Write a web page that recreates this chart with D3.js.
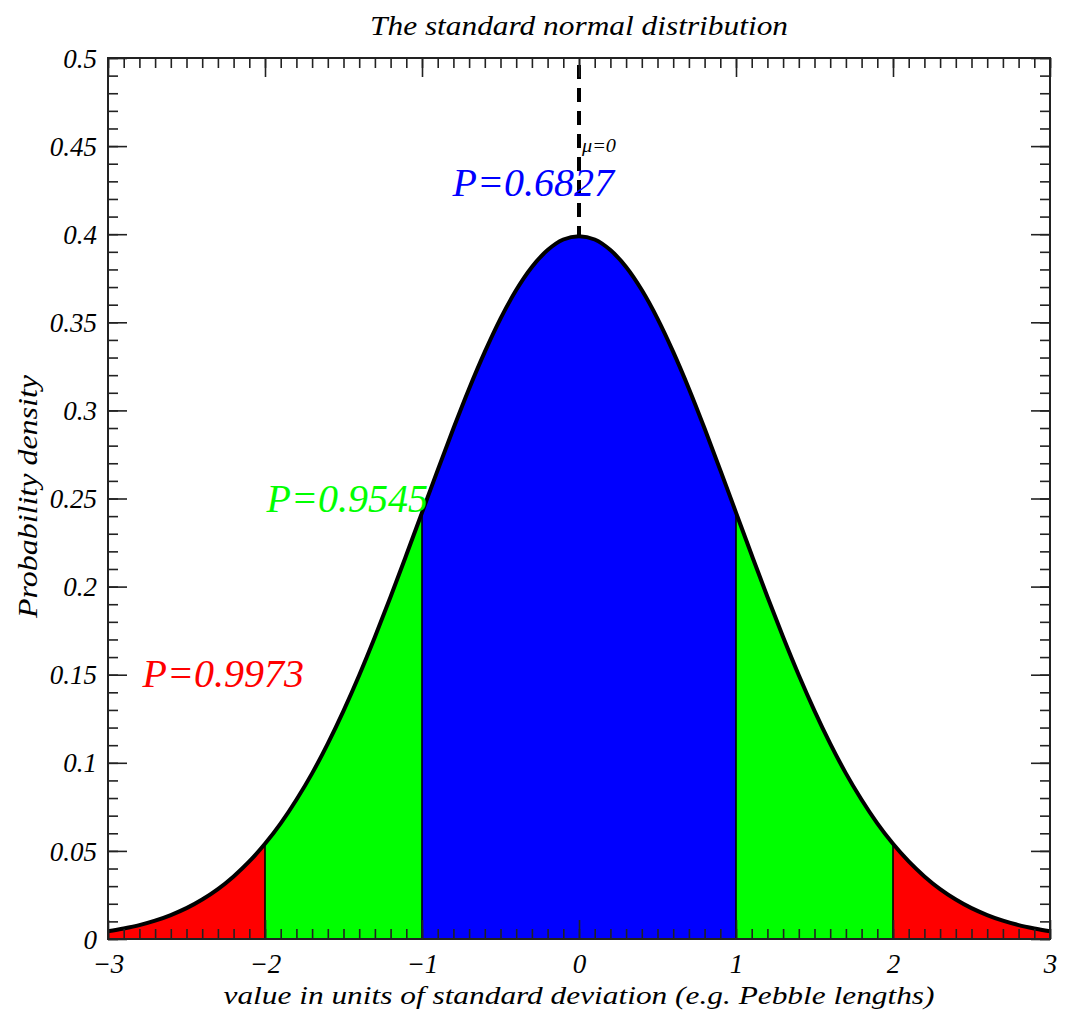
<!DOCTYPE html>
<html>
<head>
<meta charset="utf-8">
<script src="https://cdn.jsdelivr.net/npm/d3@7"></script>
<style>
  html, body { margin: 0; padding: 0; background: #fff; }
  text { font-family: "Liberation Serif", "Times New Roman", serif; font-style: italic; }
</style>
</head>
<body>
<svg id="chart" width="1066" height="1019"></svg>
<script>
// ---- data ----
const xValues = [-3.0,-2.9,-2.8,-2.7,-2.6,-2.5,-2.4,-2.3,-2.2,-2.1,-2.0,-1.9,-1.8,-1.7,-1.6,-1.5,-1.4,-1.3,-1.2,-1.1,
  -1.0,-0.9,-0.8,-0.7,-0.6,-0.5,-0.4,-0.3,-0.2,-0.1,0.0,0.1,0.2,0.3,0.4,0.5,0.6,0.7,0.8,0.9,
  1.0,1.1,1.2,1.3,1.4,1.5,1.6,1.7,1.8,1.9,2.0,2.1,2.2,2.3,2.4,2.5,2.6,2.7,2.8,2.9,3.0];
const densityValues = [0.0044,0.0060,0.0079,0.0104,0.0136,0.0175,0.0224,0.0283,0.0355,0.0440,
  0.0540,0.0656,0.0790,0.0940,0.1109,0.1295,0.1497,0.1714,0.1942,0.2179,
  0.2420,0.2661,0.2897,0.3123,0.3332,0.3521,0.3683,0.3814,0.3910,0.3970,
  0.3989,
  0.3970,0.3910,0.3814,0.3683,0.3521,0.3332,0.3123,0.2897,0.2661,0.2420,
  0.2179,0.1942,0.1714,0.1497,0.1295,0.1109,0.0940,0.0790,0.0656,0.0540,
  0.0440,0.0355,0.0283,0.0224,0.0175,0.0136,0.0104,0.0079,0.0060,0.0044];
const bandStarts = [-3, -2, -1, 1, 2];
const bandEnds   = [-2, -1, 1, 2, 3];
const bandColors = ["#ff0000", "#00ff00", "#0000ff", "#00ff00", "#ff0000"];
const dividers = [-2, -1, 1, 2];
const xTickValues = [-3, -2, -1, 0, 1, 2, 3];
const xTickLabels = ["\u22123", "\u22122", "\u22121", "0", "1", "2", "3"];
const yTickValues = [0, 0.05, 0.1, 0.15, 0.2, 0.25, 0.3, 0.35, 0.4, 0.45, 0.5];
const yTickLabels = ["0", "0.05", "0.1", "0.15", "0.2", "0.25", "0.3", "0.35", "0.4", "0.45", "0.5"];
const probLabels = ["P=0.6827", "P=0.9545", "P=0.9973"];
const probColors = ["#0000ff", "#00ff00", "#ff0000"];
const probAnchorX = [-0.805, -1.99, -2.78];
const probAnchorY = [0.4215, 0.2423, 0.1430];
const meanValue = 0;
const titleText = "The standard normal distribution";
const xLabelText = "value in units of standard deviation (e.g. Pebble lengths)";
const yLabelText = "Probability density";

// ---- layout ----
const svg = d3.select("#chart");
const L = 108, R = 1050, T = 58, B = 939;
const x = d3.scaleLinear().domain([-3, 3]).range([L, R]);
const y = d3.scaleLinear().domain([0, 0.5]).range([B, T]);

const pts = xValues.map((v, i) => ({x: v, y: densityValues[i]}));

// bands
const area = d3.area().x(d => x(d.x)).y0(y(0)).y1(d => y(d.y)).curve(d3.curveMonotoneX);
bandStarts.forEach((s, i) => {
  const e = bandEnds[i];
  const sub = pts.filter(p => p.x >= s - 1e-9 && p.x <= e + 1e-9);
  svg.append("path").attr("d", area(sub)).attr("fill", bandColors[i]).attr("stroke", "none");
});

// divider lines
dividers.forEach(d => {
  const i = xValues.findIndex(v => Math.abs(v - d) < 1e-9);
  svg.append("line")
    .attr("x1", x(d)).attr("x2", x(d))
    .attr("y1", y(0)).attr("y2", y(densityValues[i]))
    .attr("stroke", "#000").attr("stroke-width", 1.6);
});

// curve
const line = d3.line().x(d => x(d.x)).y(d => y(d.y)).curve(d3.curveMonotoneX);
svg.append("path").attr("d", line(pts)).attr("fill", "none")
  .attr("stroke", "#000").attr("stroke-width", 4);

// mean dashed line
const peak = densityValues[xValues.findIndex(v => Math.abs(v - meanValue) < 1e-9)];
svg.append("line")
  .attr("x1", x(meanValue)).attr("x2", x(meanValue))
  .attr("y1", y(0.5) + 7).attr("y2", y(peak))
  .attr("stroke", "#000").attr("stroke-width", 4)
  .attr("stroke-dasharray", "14,9");

// axes (ticks inward on all four sides)
function styleAxis(g) {
  g.select(".domain").remove();
  g.selectAll(".tick line").attr("stroke", "#222").attr("stroke-width", 1.6);
}
const minorX = d3.range(-30, 31).map(v => v / 10);
const minorY = d3.range(0, 51).map(v => v / 100);

svg.append("g").attr("transform", `translate(0,${B})`)
  .call(d3.axisBottom(x).tickValues(minorX).tickSize(-10).tickFormat(""))
  .call(styleAxis);
svg.append("g").attr("transform", `translate(0,${B})`)
  .call(d3.axisBottom(x).tickValues(xTickValues).tickSize(-19).tickPadding(15)
        .tickFormat((d, i) => xTickLabels[i]))
  .call(styleAxis)
  .call(g => g.selectAll("text").attr("font-size", 27).attr("fill", "#000")
        .style("font-family", "'Liberation Serif', serif").style("font-style", "italic"));
svg.append("g").attr("transform", `translate(0,${T})`)
  .call(d3.axisTop(x).tickValues(minorX).tickSize(-10).tickFormat(""))
  .call(styleAxis);
svg.append("g").attr("transform", `translate(0,${T})`)
  .call(d3.axisTop(x).tickValues(xTickValues).tickSize(-19).tickFormat(""))
  .call(styleAxis);

svg.append("g").attr("transform", `translate(${L},0)`)
  .call(d3.axisLeft(y).tickValues(minorY).tickSize(-10).tickFormat(""))
  .call(styleAxis);
svg.append("g").attr("transform", `translate(${L},0)`)
  .call(d3.axisLeft(y).tickValues(yTickValues).tickSize(-19).tickPadding(11)
        .tickFormat((d, i) => yTickLabels[i]))
  .call(styleAxis)
  .call(g => g.selectAll("text").attr("font-size", 27).attr("fill", "#000").attr("dy", "0.34em")
        .style("font-family", "'Liberation Serif', serif").style("font-style", "italic"));
svg.append("g").attr("transform", `translate(${R},0)`)
  .call(d3.axisRight(y).tickValues(minorY).tickSize(-10).tickFormat(""))
  .call(styleAxis);
svg.append("g").attr("transform", `translate(${R},0)`)
  .call(d3.axisRight(y).tickValues(yTickValues).tickSize(-19).tickFormat(""))
  .call(styleAxis);

// frame
svg.append("rect").attr("x", L).attr("y", T).attr("width", R - L).attr("height", B - T)
  .attr("fill", "none").attr("stroke", "#222").attr("stroke-width", 2);

// probability labels
probLabels.forEach((t, i) => {
  svg.append("text").attr("x", x(probAnchorX[i])).attr("y", y(probAnchorY[i]))
    .attr("font-size", 40).attr("fill", probColors[i]).text(t);
});

// mu label
svg.append("text").attr("x", x(meanValue) + 3).attr("y", y(0.4467))
  .attr("font-size", 19).attr("textLength", 34).attr("lengthAdjust", "spacingAndGlyphs")
  .attr("fill", "#000").text("\u03bc=0");

// title
svg.append("text").attr("x", (L + R) / 2).attr("y", 35).attr("text-anchor", "middle")
  .attr("font-size", 28).attr("textLength", 418).attr("lengthAdjust", "spacingAndGlyphs")
  .attr("fill", "#000").text(titleText);

// x label
svg.append("text").attr("x", (L + R) / 2).attr("y", 1004).attr("text-anchor", "middle")
  .attr("font-size", 25).attr("textLength", 711).attr("lengthAdjust", "spacingAndGlyphs")
  .attr("fill", "#000").text(xLabelText);

// y label
svg.append("text").attr("transform", `translate(37,${(375 + 618) / 2}) rotate(-90)`)
  .attr("text-anchor", "middle")
  .attr("font-size", 28).attr("textLength", 243).attr("lengthAdjust", "spacingAndGlyphs")
  .attr("fill", "#000").text(yLabelText);
</script>
</body>
</html>
